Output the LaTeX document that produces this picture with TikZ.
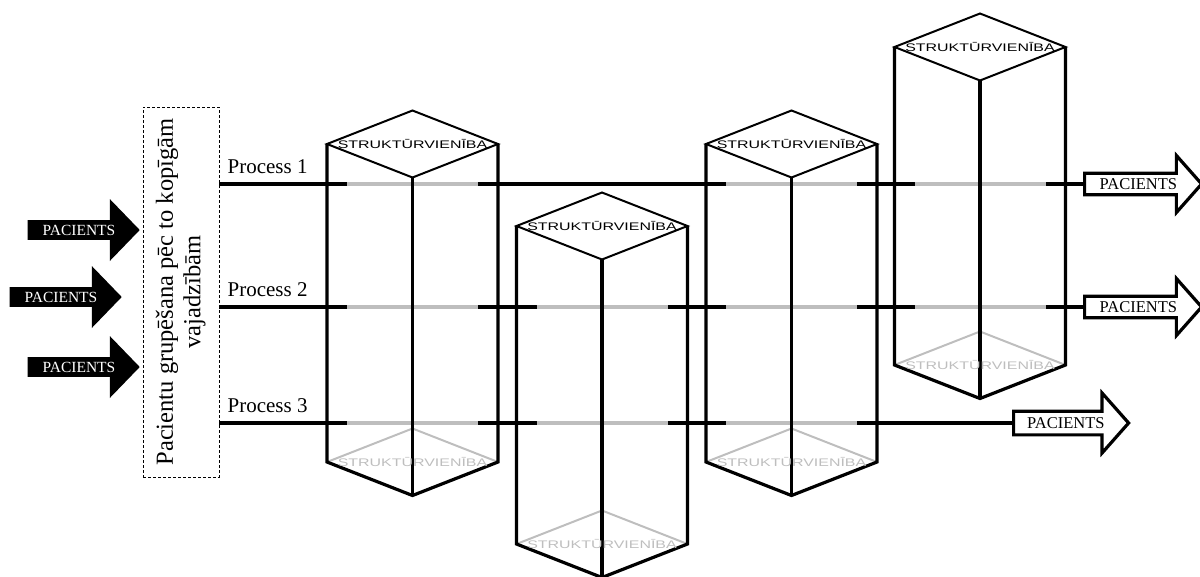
\documentclass[tikz,border=0pt]{standalone}
\usepackage{fontspec}
\setmainfont{Liberation Serif}
\newfontfamily\unitfont[FakeStretch=1.45]{Liberation Sans}
\usepackage{graphicx}
\usetikzlibrary{shapes.arrows, calc, positioning}
\definecolor{hiddenGray}{RGB}{190, 190, 190}

% one structural unit drawn as a tall box: name, centre x, y of the upper side corners
\newcommand{\struktbox}[3]{%
  \begin{scope}[shift={(#2,#3)}]
    \draw[hidden] (-85.5,318) -- (0,284.5) -- (85.5,318);
    \draw[pillar] (-85.5,0) -- (-85.5,318) -- (0,351.5) -- (85.5,318) -- (85.5,0);
    \draw[pillar] (0,33.5) -- (0,351.5);
    \draw[rim] (-85.5,0) -- (0,-33.5) -- (85.5,0) -- (0,33.5) -- cycle;
    \node[unitlbl] (#1-top) at (0,0) {STRUKTŪRVIENĪBA};
    \node[unitlbl, text=hiddenGray] (#1-bot) at (0,318) {STRUKTŪRVIENĪBA};
  \end{scope}}

\begin{document}
\begin{tikzpicture}[
    x=1pt, y=-1pt,
    % Line styles
    procline/.style={line width=3.2pt, black},
    hideline/.style={line width=3.2pt, hiddenGray},
    pillar/.style={line width=3.2pt, line join=miter},
    rim/.style={line width=2pt},
    hidden/.style={line width=2pt, hiddenGray},
    % Node styles
    groupbox/.style={
        draw,
        densely dashed,
        line width=0.8pt,
        minimum width=76pt,
        minimum height=370pt,
        inner sep=0pt,
        font=\fontsize{24.5}{27.5}\selectfont
    },
    proclbl/.style={font=\fontsize{21}{23}\selectfont, inner sep=0pt},
    unitlbl/.style={font=\unitfont\fontsize{11}{12}\selectfont, inner sep=0pt},
    patin/.style={
        single arrow,
        fill=black,
        text=white,
        font=\fontsize{15.5}{16}\selectfont,
        minimum height=112pt,
        minimum width=62pt,
        single arrow head extend=16pt,
        single arrow tip angle=92,
        inner sep=2pt
    },
    patout/.style={
        single arrow,
        draw=black,
        line width=3.2pt,
        fill=white,
        font=\fontsize{16.5}{17}\selectfont,
        minimum height=117pt,
        minimum width=57pt,
        single arrow head extend=15pt,
        single arrow tip angle=97,
        inner sep=2pt
    }
]
\useasboundingbox (0,0) rectangle (1200,576);

% Grouping box
\node[groupbox] (grp) at (181,292) {\rotatebox{90}{\begin{tabular}{@{}c@{}}Pacientu grupēšana pēc to kopīgām\\vajadzībām\end{tabular}}};

% Incoming patients
\node[patin, anchor=tip] (in1) at (140,230) {PACIENTS};
\node[patin, anchor=tip] (in2) at (122,297) {PACIENTS};
\node[patin, anchor=tip] (in3) at (140,367) {PACIENTS};

% Line ends
\coordinate (e1) at (1083,184);
\coordinate (e2) at (1083,307);
\coordinate (e3) at (1012,423);
\coordinate (s1) at (e1 -| grp.east);
\coordinate (s2) at (e2 -| grp.east);
\coordinate (s3) at (e3 -| grp.east);

% Processes
\draw[procline] (s1) -- (e1);
\draw[procline] (s2) -- (e2);
\draw[procline] (s3) -- (e3);
\node[proclbl, anchor=base west] (lbl1) at ($(s1)+(8,-11)$) {Process 1};
\node[proclbl, anchor=base west] (lbl2) at ($(s2)+(8,-11)$) {Process 2};
\node[proclbl, anchor=base west] (lbl3) at ($(s3)+(8,-11)$) {Process 3};

% Hidden parts of the lines inside the units
\foreach \cx/\py in {412.5/184, 791.5/184, 980/184,
                     412.5/307, 602/307, 791.5/307, 980/307,
                     412.5/423, 602/423, 791.5/423}
    \draw[hideline] (\cx-65.5,\py) -- (\cx+65.5,\py);

% Structural units
\struktbox{u1}{412.5}{144}
\struktbox{u2}{602}{226}
\struktbox{u3}{791.5}{144}
\struktbox{u4}{980}{47}

% Outgoing patients
\node[patout, anchor=tail] (out1) at (e1) {PACIENTS};
\node[patout, anchor=tail] (out2) at (e2) {PACIENTS};
\node[patout, anchor=tail, minimum height=115pt, minimum width=60pt, single arrow head extend=14pt] (out3) at (e3) {PACIENTS};

\end{tikzpicture}
\end{document}
